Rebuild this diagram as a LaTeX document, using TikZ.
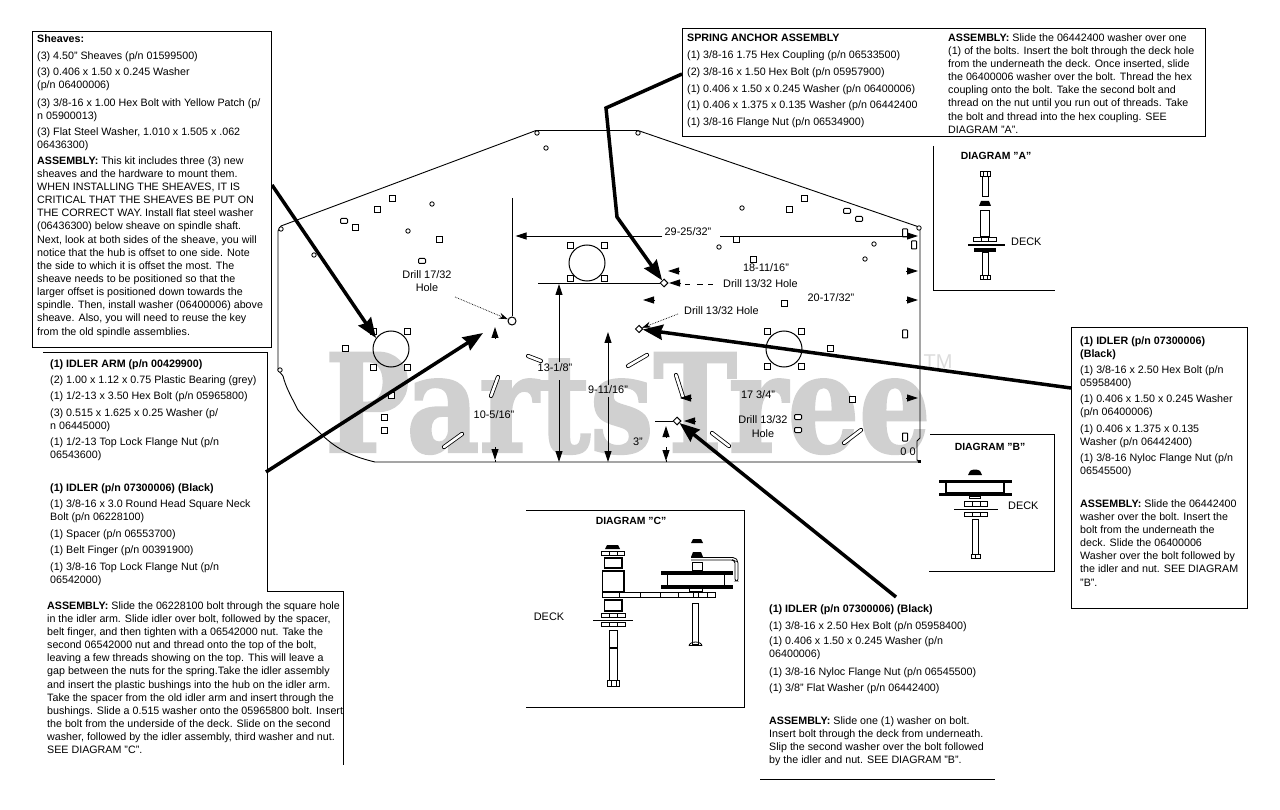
\documentclass[tikz,border=0pt]{standalone}
\usepackage{fontspec}
\usepackage{graphicx}
\setmainfont{Liberation Sans}
\newfontfamily\wmfont{DejaVu Serif Bold}[FakeBold=2]
\usetikzlibrary{arrows.meta,shapes.geometric}
\definecolor{wmgray}{HTML}{D0D0D0}
\newcommand{\para}[4]{\node[txt] (#1) at ({#2},{#3-8}) {\rule{0pt}{8pt}#4};}
\newcommand{\lbl}[4]{\node[dimtxt] (#1) at (#2,#3) {#4};}
\newcommand{\rc}[5][part]{\draw[#1] (#2,#3) rectangle (#4,#5);}
\tikzset{
  txt/.style={anchor=north west,inner sep=0pt,align=left,font=\fontsize{10.7}{13.15}\selectfont,text=black},
  dimtxt/.style={inner sep=0pt,align=center,font=\fontsize{10.9}{13.5}\selectfont,fill=none},
  headt/.style={inner sep=0pt,font=\fontsize{10.4}{12}\selectfont\bfseries},
  rule/.style={line width=1pt,black},
  deck/.style={line width=.9pt,black},
  part/.style={line width=1pt,draw=black,fill=white},
  solidp/.style={line width=.5pt,draw=black,fill=black},
  hole/.style={draw=black,line width=1pt,fill=white},
  dimline/.style={line width=.9pt,black},
  dimtip/.style={-{Triangle[length=11pt,width=7pt]},line width=.9pt,black,shorten >=0pt},
  leader/.style={densely dotted,line width=.7pt,-{Stealth[length=9pt,width=6pt]}},
  thick arrow/.style={line width=3.5pt,-{Stealth[length=20pt,width=15pt,inset=2pt]},line join=miter,black},
  slot/.style={line width=.8pt,double=white,double distance=2.6pt,line cap=round,black},
}
\begin{document}
\begin{tikzpicture}[x=1pt,y=-1pt]
\useasboundingbox (0,0) rectangle (1280,810);
\fill[white] (0,0) rectangle (1280,810);
% watermark
\node[anchor=south west,inner sep=0pt,text=wmgray] (wm) at (325,454) {\resizebox{605pt}{99pt}{\wmfont PartsTree}};
\node[inner sep=0pt,text=wmgray!75,font=\fontsize{20}{20}\selectfont] (tm) at (938,362) {TM};

% deck outline
\draw[deck,line join=round] (278,370) -- (278,231) -- (281,226) -- (536,130.5) -- (638,130.5) -- (919,227) -- (920,230) -- (920,438) -- (917,441) -- (917,460) -- (920,462) -- (375,462)
 .. controls (350,456) and (335,448) .. (320,433) -- (305,418) -- (298,410) .. controls (292,398) and (286,388) .. (283,376) -- cycle;
\fill (918,460) rectangle (921,463);

% large and small holes
\foreach \cx/\cy in {391/349,587/263,784/349}{\draw[hole,fill=none] (\cx,\cy) circle (18);}
\foreach \sx/\sy in {373/332,407/332,373/367,407/367,345/349,570/246,604/246,570/279,604/279,767/332,801/332,767/366,801/366,830/349,392/199,377/210,355/228,439/240,391/395,384/417,384/430,804/199,789/210,736/240,784/304,852/399,753/260}{\draw[hole] (\sx-3,\sy-3) rectangle (\sx+3,\sy+3);}
\foreach \sx/\sy in {344/221,422/261,847/211,859/219,798/417,798/430}{\draw[hole,rounded corners=1pt] (\sx-3.5,\sy-2.5) rectangle (\sx+3.5,\sy+2.5);}
\foreach \sx/\sy in {905/233,905/334,905/437,914/245}{\draw[hole,rounded corners=.5pt] (\sx-2.5,\sy-4) rectangle (\sx+2.5,\sy+4);}
\foreach \sx/\sy in {546/148,432/204,408/231,314/255,537/133,638/133,281/229,280/370,742/208,719/247,874/244,865/259,919/228}{\draw[hole,line width=.8pt] (\sx,\sy) circle (2.2);}
\foreach \ax/\ay/\bx/\by in {528/356/541/361,498/377/491/396,462/434/444/447,647/355/628/366,676/375/683/397,712/433/729/446,861/430/844/443}{\draw[slot] (\ax,\ay) -- (\bx,\by);}
\node[inner sep=0pt,font=\fontsize{11}{11}\selectfont] (oo) at (908,452) {0 0};

% marked holes
\node[circle,hole,minimum size=8pt,inner sep=0pt] (h17) at (512,321) {};
\node[diamond,hole,minimum size=8pt,inner sep=0pt] (d1) at (664,283) {};
\node[diamond,hole,minimum size=7.5pt,inner sep=0pt] (d2) at (639,329) {};
\node[diamond,hole,minimum size=8pt,inner sep=0pt] (d3) at (677,421) {};

% dimension construction lines
\coordinate (v1top) at (512,198);
\draw[dimline] (v1top) -- (h17);
\coordinate (h2l) at (538,283);
\draw[dimline] (h2l) -- (d1);
\coordinate (h3l) at (655,421);
\draw[dimline] (h3l) -- (d3);
\foreach \xa/\xb in {685/690,697/703,708/713}{\draw[dimline] (\xa,284) -- (\xb,284);}

% 29-25/32
\lbl{d29}{688}{232}{29-25/32"}
\coordinate (a29m) at (662,236); \coordinate (a29l) at (515.5,236);
\coordinate (b29m) at (720,236); \coordinate (b29r) at (918,236);
\draw[dimtip] (a29m) -- (a29l);
\draw[dimtip] (b29m) -- (b29r);
% dimension arrowheads with no shaft
\foreach \xa/\ya/\xb/\yb in {
 680/271/668/271, 906/271/918/271,
 655/300/643/300, 906/300/918/300,
 691/398/680/398, 906/398/918/398,
 681/283/669/283, 696/421/684/421,
 666/437/666/426, 666/447/666/461,
 495/338/495/327, 495/447/495/460}{
 \draw[-{Triangle[length=11pt,width=7pt]},line width=.9pt] (\xa,\ya) -- (\xb,\yb);}
\draw[dimline] (666,460) -- (666,462);
\draw[dimline] (495,460) -- (495,462);

% vertical dims
\coordinate (v13t) at (559,284); \coordinate (v13a) at (559,362);
\coordinate (v13b) at (559,380); \coordinate (v13c) at (559,462);
\draw[dimtip] (v13a) -- (v13t);
\draw[dimtip] (v13b) -- (v13c);
\coordinate (v9t) at (608,332); \coordinate (v9a) at (608,385);
\coordinate (v9b) at (608,397); \coordinate (v9c) at (608,462);
\draw[dimtip] (v9a) -- (v9t);
\draw[dimtip] (v9b) -- (v9c);

\lbl{d18}{766}{268}{18-11/16"}
\lbl{d20}{831}{298}{20-17/32"}
\lbl{d13}{555}{368}{13-1/8"}
\lbl{d9}{608}{390}{9-11/16"}
\lbl{d10}{494}{415}{10-5/16"}
\lbl{d17}{758}{395}{17 3/4"}
\lbl{d3i}{638}{442}{3"}
\lbl{dr17}{427}{281}{Drill 17/32\\Hole}
\lbl{dr13c}{763}{426.5}{Drill 13/32\\Hole}
\node[dimtxt,anchor=west] (dr13a) at (723,284) {Drill 13/32 Hole};
\node[dimtxt,anchor=west] (dr13b) at (684,311) {Drill 13/32 Hole};
\coordinate (ld1) at (455,297); \draw[leader] (ld1) -- (h17);
\coordinate (ld2) at (678,314); \draw[leader] (ld2) -- (d2);

% thick call-out arrows
\coordinate (ca1) at (272,185); \coordinate (ct1) at (376,338);
\draw[thick arrow] (ca1) -- (ct1);
\coordinate (ca2) at (266,472); \coordinate (ct2) at (483,333);
\draw[thick arrow] (ca2) -- (ct2);
\coordinate (ca3) at (682,74); \coordinate (cb3) at (606,108); \coordinate (cc3) at (617,217);
\draw[thick arrow] (ca3) -- (cb3) -- (cc3) -- (d1);
\coordinate (ca4) at (1071,388);
\draw[thick arrow] (ca4) -- (d2);
\coordinate (ca5) at (896,597);
\draw[thick arrow] (ca5) -- (d3);

% Sheaves box
\draw[rule,fill=white] (32,32) rectangle (271.5,347.5);
\para{s1}{37}{42}{\textbf{Sheaves:}}
\para{s2}{37}{59}{(3) 4.50" Sheaves (p/n 01599500)}
\para{s3}{37}{75}{(3) 0.406 x 1.50 x 0.245 Washer\\(p/n 06400006)}
\para{s4}{37}{106}{(3) 3/8-16 x 1.00 Hex Bolt with Yellow Patch (p/\\n 05900013)}
\para{s5}{37}{135}{(3) Flat Steel Washer, 1.010 x 1.505 x .062\\06436300)}
\para{s6}{37}{164}{\textbf{ASSEMBLY:} This kit includes three (3) new\\sheaves and the hardware to mount them.\\WHEN INSTALLING THE SHEAVES, IT IS\\CRITICAL THAT THE SHEAVES BE PUT ON\\THE CORRECT WAY. Install flat steel washer\\(06436300) below sheave on spindle shaft.\\Next, look at both sides of the sheave, you will\\notice that the hub is offset to one side. Note\\the side to which it is offset the most. The\\sheave needs to be positioned so that the\\larger offset is positioned down towards the\\spindle. Then, install washer (06400006) above\\sheave. Also, you will need to reuse the key\\from the old spindle assemblies.}

% Idler arm box
\coordinate (ib1) at (43,353); \coordinate (ib2) at (267,353); \coordinate (ib3) at (267,591); \coordinate (ib4) at (343.5,591); \coordinate (ib5) at (343.5,765);
\draw[rule] (ib1) -- (ib2) -- (ib3) -- (ib4) -- (ib5);
\para{i1}{50}{367}{\textbf{(1) IDLER ARM (p/n 00429900)}}
\para{i2}{50}{383}{(2) 1.00 x 1.12 x 0.75 Plastic Bearing (grey)}
\para{i3}{50}{399}{(1) 1/2-13 x 3.50 Hex Bolt (p/n 05965800)}
\para{i4}{50}{416}{(3) 0.515 x 1.625 x 0.25 Washer (p/\\n 06445000)}
\para{i5}{50}{445}{(1) 1/2-13 Top Lock Flange Nut (p/n\\06543600)}
\para{i6}{50}{491}{\textbf{(1) IDLER (p/n 07300006) (Black)}}
\para{i7}{50}{507}{(1) 3/8-16 x 3.0 Round Head Square Neck\\Bolt (p/n 06228100)}
\para{i8}{50}{537}{(1) Spacer (p/n 06553700)}
\para{i9}{50}{553}{(1) Belt Finger (p/n 00391900)}
\para{i10}{50}{570}{(1) 3/8-16 Top Lock Flange Nut (p/n\\06542000)}
\para{i11}{47}{609}{\textbf{ASSEMBLY:} Slide the 06228100 bolt through the square hole\\in the idler arm. Slide idler over bolt, followed by the spacer,\\belt finger, and then tighten with a 06542000 nut. Take the\\second 06542000 nut and thread onto the top of the bolt,\\leaving a few threads showing on the top. This will leave a\\gap between the nuts for the spring.Take the idler assembly\\and insert the plastic bushings into the hub on the idler arm.\\Take the spacer from the old idler arm and insert through the\\bushings. Slide a 0.515 washer onto the 05965800 bolt. Insert\\the bolt from the underside of the deck. Slide on the second\\washer, followed by the idler assembly, third washer and nut.\\SEE DIAGRAM "C".}

% Spring anchor box
\draw[rule,fill=white] (682.5,29) rectangle (1205,137);
\para{a1}{687}{41}{\textbf{SPRING ANCHOR ASSEMBLY}}
\para{a2}{687}{58}{(1) 3/8-16 1.75 Hex Coupling (p/n 06533500)}
\para{a3}{687}{75}{(2) 3/8-16 x 1.50 Hex Bolt (p/n 05957900)}
\para{a4}{687}{92}{(1) 0.406 x 1.50 x 0.245 Washer (p/n 06400006)}
\para{a5}{687}{108}{(1) 0.406 x 1.375 x 0.135 Washer (p/n 06442400}
\para{a6}{687}{125}{(1) 3/8-16 Flange Nut (p/n 06534900)}
\para{a7}{948}{41}{\textbf{ASSEMBLY:} Slide the 06442400 washer over one\\(1) of the bolts. Insert the bolt through the deck hole\\from the underneath the deck. Once inserted, slide\\the 06400006 washer over the bolt. Thread the hex\\coupling onto the bolt. Take the second bolt and\\thread on the nut until you run out of threads. Take\\the bolt and thread into the hex coupling. SEE\\DIAGRAM "A".}

% right idler box
\draw[rule,fill=white] (1071,328) rectangle (1247,608);
\para{r1}{1080}{344}{\textbf{(1) IDLER (p/n 07300006)}\\\textbf{(Black)}}
\para{r2}{1080}{373}{(1) 3/8-16 x 2.50 Hex Bolt (p/n\\05958400)}
\para{r3}{1080}{402}{(1) 0.406 x 1.50 x 0.245 Washer\\(p/n 06400006)}
\para{r4}{1080}{432}{(1) 0.406 x 1.375 x 0.135\\Washer (p/n 06442400)}
\para{r5}{1080}{461}{(1) 3/8-16 Nyloc Flange Nut (p/n\\06545500)}
\para{r6}{1080}{507}{\textbf{ASSEMBLY:} Slide the 06442400\\washer over the bolt. Insert the\\bolt from the underneath the\\deck. Slide the 06400006\\Washer over the bolt followed by\\the idler and nut. SEE DIAGRAM\\"B".}

% bottom centre text
\para{b1}{769}{612}{\textbf{(1) IDLER (p/n 07300006) (Black)}}
\para{b2}{769}{629}{(1) 3/8-16 x 2.50 Hex Bolt (p/n 05958400)}
\para{b3}{769}{644}{(1) 0.406 x 1.50 x 0.245 Washer (p/n\\06400006)}
\para{b4}{769}{675}{(1) 3/8-16 Nyloc Flange Nut (p/n 06545500)}
\para{b5}{769}{691}{(1) 3/8" Flat Washer (p/n 06442400)}
\para{b6}{769}{724}{\textbf{ASSEMBLY:} Slide one (1) washer on bolt.\\Insert bolt through the deck from underneath.\\Slip the second washer over the bolt followed\\by the idler and nut. SEE DIAGRAM "B".}
\coordinate (bl1) at (760,779); \coordinate (bl2) at (995,779);
\draw[rule] (bl1) -- (bl2);

% Diagram A
\coordinate (A1) at (933,146); \coordinate (A2) at (933,291); \coordinate (A3) at (1055,291);
\draw[rule] (A1) -- (A2) -- (A3);
\node[headt] (An) at (996,156) {DIAGRAM "A"};
\rc{982.5}{177}{988}{197}
\rc{980}{172}{990}{177}
\draw[line width=.8pt] (983,172) -- (983,177) (987,172) -- (987,177);
\fill (979,206) -- (981,201) -- (989,201) -- (991,206) -- cycle;
\rc{980.5}{211}{989}{237}
\rc{973.5}{238}{996}{242}
\draw[part] (981,238) -- (981,242) (988,238) -- (988,242);
\draw[line width=1.6pt] (968,245) -- (1005,245);
\rc[solidp]{974}{248}{995}{251}
\rc{982}{253}{988}{276}
\rc{980}{276}{990}{279.5}
\draw[line width=.8pt] (983,276) -- (983,279.5) (987,276) -- (987,279.5);
\node[dimtxt,anchor=west] (Ad) at (1011,242) {DECK};

% Diagram B
\coordinate (B1) at (930,434); \coordinate (B2) at (1054,434); \coordinate (B3) at (1054,571); \coordinate (B4) at (929,571);
\draw[rule] (B1) -- (B2) -- (B3) -- (B4);
\node[headt] (Bn) at (990,447) {DIAGRAM "B"};
\fill (968,475) -- (970,471) .. controls (972,469) and (978,469) .. (980,471) -- (982,475) -- cycle;
\rc[solidp]{939}{480}{1011}{482.5}
\rc[part,line width=1.5pt]{946}{482.5}{1004}{493}
\rc[solidp]{939}{493}{1011}{495.5}
\rc{969}{496}{980}{498}
\rc{964.5}{501}{987}{506}
\draw[part] (972,501) -- (972,506) (980,501) -- (980,506);
\draw[line width=.9pt] (954,509) -- (998,509);
\rc{964.5}{512}{987}{516}
\draw[part] (972,512) -- (972,516) (980,512) -- (980,516);
\rc{972.5}{519}{978}{554}
\rc{971}{554}{980}{558}
\draw[line width=.8pt] (975.5,554) -- (975.5,558);
\node[dimtxt,anchor=west] (Bd) at (1008,506) {DECK};

% Diagram C
\coordinate (C1) at (526,510.5); \coordinate (C2) at (744.5,510.5); \coordinate (C3) at (744.5,707); \coordinate (C4) at (526,707);
\draw[rule] (C1) -- (C2) -- (C3) -- (C4);
\node[headt] (Cn) at (631,521) {DIAGRAM "C"};
\node[dimtxt] (Cd) at (549,617) {DECK};
\fill (605,549) -- (607,545) -- (618,545) -- (620,549) -- cycle;
\rc{601.5}{551}{624}{555}
\draw[line width=.8pt] (609,551) -- (609,555) (617,551) -- (617,555);
\rc[part,line width=1.5pt]{604.5}{558}{622}{568}
\rc[part,line width=1.5pt]{602.5}{571}{624}{592}
\rc{602}{592}{715}{597}
\foreach \tx in {619,640,660,678,693,698,707}{\draw[line width=.9pt] (\tx,592) -- (\tx,597);}
\rc[part,line width=1.5pt]{604.5}{600}{622}{611}
\rc{601.5}{613}{625.5}{617}
\draw[line width=.8pt] (609,613) -- (609,617) (617,613) -- (617,617);
\draw[line width=.9pt] (593,620) -- (633,620);
\rc{601.5}{622}{625.5}{626}
\draw[line width=.8pt] (609,622) -- (609,626) (617,622) -- (617,626);
\rc{609.5}{630}{617.5}{680}
\rc{607.5}{680}{619}{686}
\draw[line width=.8pt] (611,680) -- (611,686) (616,680) -- (616,686);
\draw[line width=1.5pt] (609.5,648) -- (617.5,648);
\fill (691,543) -- (693,539) -- (701,539) -- (703,543) -- cycle;
\fill (691,557) -- (693,552) -- (701,552) -- (703,557) -- cycle;
\rc{692}{562}{702}{570}
\draw[line width=.8pt,rounded corners=2pt] (691,557.5) -- (735,557.5) -- (738,561) -- (738,581) -- (735,581) -- (735,561) -- (733,560) -- (691,560);
\rc[solidp]{661}{571}{732}{574}
\rc[part]{667}{574}{724}{585}
\rc[solidp]{661}{585}{732}{588}
\rc{689}{588}{702}{591}
\rc{692.5}{603}{698}{644}
\draw[line width=.8pt] (689,646) arc[start angle=180,end angle=360,x radius=6.5,y radius=4];
\draw[line width=.8pt] (689,645) -- (702,645);
\end{tikzpicture}
\end{document}
